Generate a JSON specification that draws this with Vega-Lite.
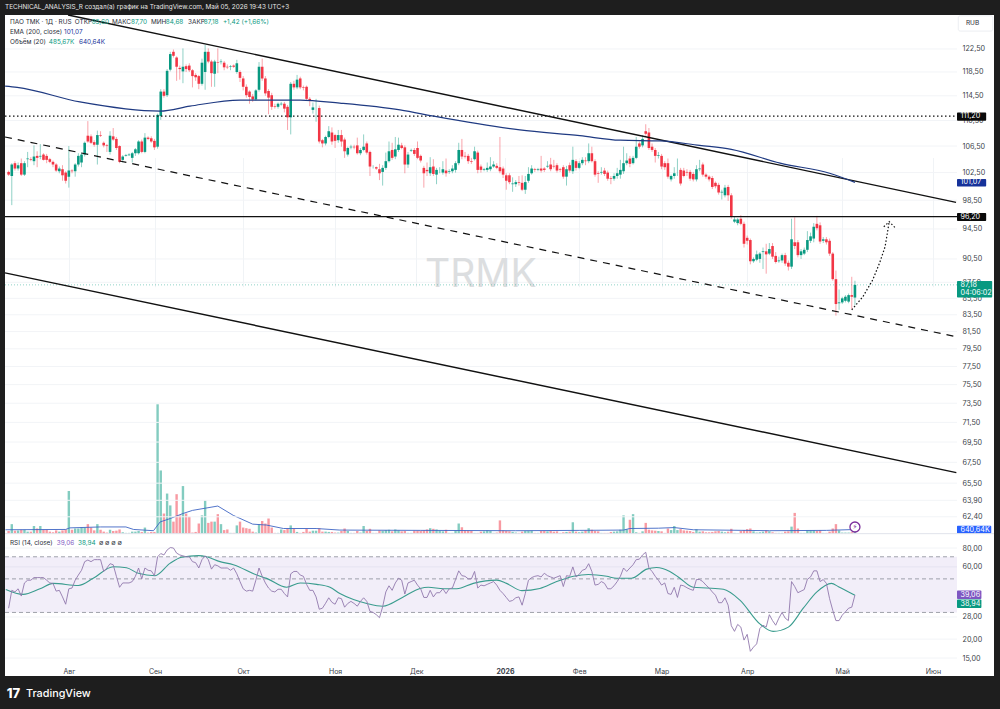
{"$schema":"https://vega.github.io/schema/vega-lite/v6.json","width":989,"height":661,"autosize":{"type":"none"},"padding":{"left":5,"top":15,"right":6,"bottom":33},"background":"#1e1e1e","view":{"fill":"#ffffff","stroke":null},"config":{"text":{"font":"Inter"},"title":{"font":"Inter"},"scale":{"continuousPadding":0}},"title":{"text":"TECHNICAL_ANALYSIS_R создал(а) график на TradingView.com, Май 05, 2026 19:43 UTC+3","anchor":"start","frame":"group","orient":"top","offset":1.5,"fontSize":6.4,"fontWeight":"normal","color":"#e6e6e6"},
"datasets":{
"candles":[
{"i":0,"o":102.6,"h":102.8,"l":102,"c":102.2,"v":0.4,"r":32},
{"i":1,"o":102,"h":103.9,"l":97.8,"c":103.7,"v":1.5,"r":42},
{"i":2,"o":103.9,"h":104.2,"l":102.8,"c":103.1,"v":0.45,"r":41},
{"i":3,"o":103.1,"h":104,"l":102.8,"c":103.6,"v":0.5,"r":43},
{"i":4,"o":103.9,"h":104.6,"l":102,"c":102.2,"v":0.6,"r":38.5},
{"i":5,"o":102.2,"h":104.2,"l":102,"c":103.9,"v":0.6,"r":47},
{"i":6,"o":104.5,"h":105.6,"l":103.3,"c":104.6,"v":0.3,"r":49},
{"i":7,"o":104.5,"h":104.8,"l":104.2,"c":104.4,"v":0.3,"r":49},
{"i":8,"o":104.2,"h":106.6,"l":103.6,"c":104.9,"v":1.2,"r":51},
{"i":9,"o":105,"h":105.7,"l":103.3,"c":104.7,"v":0.8,"r":51},
{"i":10,"o":104.9,"h":106.8,"l":104.5,"c":105,"v":1.2,"r":51},
{"i":11,"o":105.2,"h":105.4,"l":104.3,"c":104.4,"v":0.6,"r":51},
{"i":12,"o":105,"h":105.3,"l":103.9,"c":104.4,"v":0.6,"r":49},
{"i":13,"o":104.5,"h":104.7,"l":103.9,"c":104.1,"v":0.3,"r":47},
{"i":14,"o":104.1,"h":104.3,"l":103.3,"c":103.7,"v":0.2,"r":46.7},
{"i":15,"o":103.7,"h":103.9,"l":102.6,"c":102.8,"v":0.5,"r":41.5},
{"i":16,"o":102.7,"h":103.4,"l":102.4,"c":103.1,"v":0.3,"r":42},
{"i":17,"o":103,"h":103.6,"l":101.3,"c":102.1,"v":0.5,"r":38},
{"i":18,"o":102.5,"h":102.7,"l":100.9,"c":101.3,"v":0.65,"r":34},
{"i":19,"o":101.9,"h":106.5,"l":100.3,"c":102.8,"v":6.8,"r":43},
{"i":20,"o":102.8,"h":103,"l":102.4,"c":102.7,"v":0.6,"r":43.5},
{"i":21,"o":102.7,"h":103.9,"l":101.9,"c":103.7,"v":0.8,"r":49},
{"i":22,"o":103.7,"h":105.4,"l":103.4,"c":105,"v":0.8,"r":53},
{"i":23,"o":104,"h":105.5,"l":103.3,"c":105.2,"v":0.95,"r":57},
{"i":24,"o":105.2,"h":107.2,"l":104.9,"c":107,"v":0.95,"r":65},
{"i":25,"o":108.1,"h":110.4,"l":107,"c":107.2,"v":1.5,"r":66.6},
{"i":26,"o":108,"h":108.3,"l":106.8,"c":107,"v":0.95,"r":65},
{"i":27,"o":107.1,"h":107.4,"l":106.4,"c":106.7,"v":0.5,"r":67},
{"i":28,"o":106.7,"h":108.9,"l":103.7,"c":108.2,"v":1.5,"r":67},
{"i":29,"o":108.2,"h":108.8,"l":107.9,"c":108.1,"v":0.6,"r":67},
{"i":30,"o":107,"h":107.2,"l":106.3,"c":106.6,"v":0.3,"r":56},
{"i":31,"o":106.6,"h":106.8,"l":105.6,"c":106.5,"v":0.15,"r":59},
{"i":32,"o":105.6,"h":108.8,"l":105.2,"c":108.1,"v":0.6,"r":63},
{"i":33,"o":108,"h":109.3,"l":107.3,"c":107.5,"v":0.4,"r":62},
{"i":34,"o":107.6,"h":107.9,"l":105.9,"c":106.2,"v":0.45,"r":52},
{"i":35,"o":106.5,"h":106.6,"l":103.9,"c":104.1,"v":0.65,"r":44},
{"i":36,"o":104.4,"h":105.1,"l":104,"c":104.9,"v":0.2,"r":47},
{"i":37,"o":105,"h":105.3,"l":104.9,"c":105.1,"v":0.1,"r":47},
{"i":38,"o":105.1,"h":105.4,"l":105,"c":105.2,"v":0.1,"r":47},
{"i":39,"o":104.7,"h":105.6,"l":104,"c":105.4,"v":0.3,"r":48},
{"i":40,"o":105.4,"h":106.2,"l":105,"c":106,"v":0.3,"r":52},
{"i":41,"o":105.4,"h":107.4,"l":105.2,"c":107.2,"v":0.4,"r":59},
{"i":42,"o":107.2,"h":107.5,"l":105.4,"c":105.6,"v":0.25,"r":50},
{"i":43,"o":105.6,"h":108.5,"l":105.4,"c":107.8,"v":0.95,"r":59},
{"i":44,"o":107.8,"h":108,"l":107.4,"c":107.6,"v":0.15,"r":57},
{"i":45,"o":107.7,"h":108,"l":107,"c":107.2,"v":0.25,"r":56.5},
{"i":46,"o":107.3,"h":107.6,"l":105.9,"c":106.3,"v":0.25,"r":52.5},
{"i":47,"o":106.4,"h":111.6,"l":106.1,"c":111.4,"v":20.7,"r":70},
{"i":48,"o":111.2,"h":115.6,"l":110.6,"c":115.2,"v":10.1,"r":73.5},
{"i":49,"o":115.2,"h":115.6,"l":114.2,"c":114.5,"v":3.2,"r":72},
{"i":50,"o":114.6,"h":119,"l":114.3,"c":118.7,"v":6.4,"r":77.6},
{"i":51,"o":118.9,"h":122,"l":118.6,"c":121.6,"v":4.5,"r":80.5},
{"i":52,"o":122,"h":122.4,"l":121,"c":121.3,"v":1.9,"r":80},
{"i":53,"o":121,"h":121.2,"l":117,"c":119.4,"v":6.3,"r":74},
{"i":54,"o":119.2,"h":119.6,"l":117.2,"c":119,"v":2.9,"r":72},
{"i":55,"o":118.6,"h":122.6,"l":116.6,"c":119.4,"v":7.6,"r":71},
{"i":56,"o":119.5,"h":119.8,"l":118.5,"c":119,"v":3.2,"r":70},
{"i":57,"o":119.6,"h":120,"l":118.5,"c":118.8,"v":2.7,"r":70},
{"i":58,"o":118.8,"h":119,"l":115.9,"c":117.8,"v":0.15,"r":65},
{"i":59,"o":118,"h":118.3,"l":117,"c":117.6,"v":0.25,"r":64},
{"i":60,"o":117.8,"h":118,"l":115.6,"c":116.5,"v":1.6,"r":59},
{"i":61,"o":116.5,"h":120.8,"l":116.2,"c":120.1,"v":2.9,"r":67},
{"i":62,"o":118.5,"h":123.2,"l":115.5,"c":122,"v":5.3,"r":71},
{"i":63,"o":122,"h":122.6,"l":120,"c":120.3,"v":1.7,"r":67},
{"i":64,"o":120.3,"h":120.6,"l":116,"c":118.3,"v":1.9,"r":58},
{"i":65,"o":118.2,"h":120.6,"l":116,"c":120.3,"v":1.9,"r":62},
{"i":66,"o":120.2,"h":122.6,"l":118.3,"c":120.1,"v":3.1,"r":61},
{"i":67,"o":120.2,"h":120.7,"l":119.8,"c":120.3,"v":1.5,"r":59},
{"i":68,"o":120.1,"h":120.4,"l":118.8,"c":119.3,"v":0.55,"r":59},
{"i":69,"o":119.4,"h":119.8,"l":119,"c":119.3,"v":0.65,"r":59},
{"i":70,"o":119.4,"h":119.7,"l":118.8,"c":119.5,"v":0.1,"r":57},
{"i":71,"o":119.6,"h":119.8,"l":119.2,"c":119.4,"v":0.1,"r":59},
{"i":72,"o":118.5,"h":120.6,"l":118.2,"c":120,"v":1.3,"r":54},
{"i":73,"o":118.5,"h":118.8,"l":116.8,"c":117.5,"v":1.9,"r":48},
{"i":74,"o":117.4,"h":117.8,"l":115.4,"c":116,"v":0.95,"r":43},
{"i":75,"o":116,"h":116.4,"l":114.2,"c":114.6,"v":0.85,"r":41.5},
{"i":76,"o":115.2,"h":115.4,"l":113.2,"c":114.3,"v":0.75,"r":42},
{"i":77,"o":114.4,"h":114.8,"l":113.5,"c":113.9,"v":0.3,"r":41.5},
{"i":78,"o":113.9,"h":115.6,"l":113.7,"c":115.4,"v":0.15,"r":49},
{"i":79,"o":115.5,"h":120.2,"l":115.2,"c":119.4,"v":1.5,"r":59},
{"i":80,"o":119.4,"h":120.8,"l":117,"c":117.4,"v":2,"r":52},
{"i":81,"o":117.4,"h":117.8,"l":114.5,"c":114.9,"v":1.6,"r":47},
{"i":82,"o":115.3,"h":115.6,"l":111.5,"c":114.2,"v":2.4,"r":43.5},
{"i":83,"o":114.6,"h":115,"l":112.2,"c":112.7,"v":0.95,"r":41.5},
{"i":84,"o":112.8,"h":113.2,"l":112.4,"c":112.7,"v":0.1,"r":41},
{"i":85,"o":112.7,"h":113.4,"l":112.4,"c":113.2,"v":0.1,"r":42.7},
{"i":86,"o":113.1,"h":113.5,"l":112.9,"c":113.2,"v":0.65,"r":42.7},
{"i":87,"o":113.2,"h":113.5,"l":111.8,"c":112.4,"v":0.55,"r":40},
{"i":88,"o":112.7,"h":113,"l":109,"c":111,"v":0.75,"r":38},
{"i":89,"o":111,"h":116.8,"l":108.3,"c":116.5,"v":1.3,"r":54},
{"i":90,"o":116.5,"h":117,"l":115.5,"c":115.9,"v":0.75,"r":56},
{"i":91,"o":115.9,"h":118,"l":115.6,"c":117.2,"v":0.25,"r":56},
{"i":92,"o":117.4,"h":117.7,"l":115.6,"c":115.9,"v":0.1,"r":53},
{"i":93,"o":115.9,"h":116.2,"l":115.4,"c":115.8,"v":0.25,"r":52},
{"i":94,"o":116,"h":116.2,"l":113.8,"c":114,"v":0.75,"r":46},
{"i":95,"o":114,"h":114.3,"l":112.8,"c":113.8,"v":0.3,"r":42},
{"i":96,"o":112.2,"h":113.4,"l":111.6,"c":112.6,"v":0.45,"r":42},
{"i":97,"o":112.6,"h":114,"l":110.3,"c":112.6,"v":0.45,"r":38},
{"i":98,"o":112.5,"h":112.9,"l":106.9,"c":107.2,"v":0.85,"r":31.5},
{"i":99,"o":107.4,"h":107.6,"l":106.3,"c":106.9,"v":0.3,"r":32},
{"i":100,"o":106.9,"h":108.1,"l":106.6,"c":107.9,"v":0.3,"r":34.5},
{"i":101,"o":107.9,"h":109.6,"l":107.7,"c":108.8,"v":0.25,"r":37.5},
{"i":102,"o":108.6,"h":109.4,"l":106.7,"c":107.2,"v":0.25,"r":35},
{"i":103,"o":108.2,"h":108.4,"l":106.2,"c":107.3,"v":0.15,"r":34},
{"i":104,"o":107.4,"h":109,"l":107,"c":108.2,"v":0.15,"r":37.5},
{"i":105,"o":108.2,"h":109,"l":106.4,"c":107.2,"v":0.4,"r":37},
{"i":106,"o":107.5,"h":107.8,"l":104.7,"c":105.7,"v":0.8,"r":32.5},
{"i":107,"o":105.2,"h":106.4,"l":104.9,"c":106.2,"v":0.4,"r":34.4},
{"i":108,"o":106.3,"h":106.7,"l":106,"c":106.4,"v":0.1,"r":35.5},
{"i":109,"o":106.4,"h":106.7,"l":106,"c":106.3,"v":0.1,"r":34.4},
{"i":110,"o":106.6,"h":107.8,"l":105.2,"c":105.4,"v":0.4,"r":33},
{"i":111,"o":105.4,"h":106.2,"l":105.1,"c":105.9,"v":0.15,"r":35.5},
{"i":112,"o":105.9,"h":108.3,"l":105.7,"c":106.4,"v":1.2,"r":37.5},
{"i":113,"o":106.9,"h":107.2,"l":105.2,"c":105.5,"v":0.4,"r":35.5},
{"i":114,"o":105.6,"h":105.8,"l":102,"c":103.4,"v":0.75,"r":30.5},
{"i":115,"o":103.4,"h":103.6,"l":103.1,"c":103.4,"v":0.1,"r":30},
{"i":116,"o":103.3,"h":103.4,"l":102.9,"c":103.1,"v":0.1,"r":29},
{"i":117,"o":103,"h":103.8,"l":101.4,"c":102.4,"v":0.5,"r":27.7},
{"i":118,"o":102.6,"h":103.6,"l":100.6,"c":103.2,"v":0.45,"r":32.7},
{"i":119,"o":103.2,"h":105.5,"l":102.9,"c":104.2,"v":0.55,"r":41},
{"i":120,"o":104.2,"h":107.2,"l":104,"c":105.7,"v":0.6,"r":45},
{"i":121,"o":105.9,"h":107,"l":104.4,"c":104.7,"v":0.35,"r":42},
{"i":122,"o":104.9,"h":107.9,"l":104.5,"c":106,"v":0.65,"r":47},
{"i":123,"o":105.9,"h":107.8,"l":105.6,"c":106.7,"v":0.5,"r":50.5},
{"i":124,"o":106.6,"h":107,"l":106,"c":106.2,"v":0.35,"r":49},
{"i":125,"o":106.3,"h":106.6,"l":102.4,"c":103.7,"v":0.4,"r":39.7},
{"i":126,"o":103.7,"h":105.6,"l":103.2,"c":105.2,"v":0.1,"r":47},
{"i":127,"o":105.8,"h":106.1,"l":105.6,"c":105.9,"v":0.1,"r":48},
{"i":128,"o":105.9,"h":106.2,"l":105,"c":105.3,"v":0.45,"r":49},
{"i":129,"o":106.2,"h":107.2,"l":104.5,"c":104.7,"v":0.45,"r":45.5},
{"i":130,"o":105,"h":105.2,"l":104,"c":104.3,"v":0.45,"r":43},
{"i":131,"o":103.2,"h":103.5,"l":100.3,"c":102.4,"v":0.5,"r":37.7},
{"i":132,"o":102.9,"h":104,"l":102,"c":102.7,"v":0.65,"r":37.7},
{"i":133,"o":102.4,"h":104.8,"l":102,"c":103.3,"v":0.85,"r":42},
{"i":134,"o":103.4,"h":104.5,"l":102,"c":102.3,"v":0.75,"r":38},
{"i":135,"o":102.2,"h":103.2,"l":100.8,"c":102.9,"v":0.65,"r":40.5},
{"i":136,"o":102.8,"h":103.3,"l":102.4,"c":102.8,"v":0.45,"r":40.5},
{"i":137,"o":102.5,"h":104.2,"l":102.2,"c":103,"v":0.35,"r":43},
{"i":138,"o":102.8,"h":104.6,"l":101.9,"c":102.4,"v":0.6,"r":40},
{"i":139,"o":102.6,"h":103,"l":102.3,"c":102.7,"v":0.1,"r":43},
{"i":140,"o":102.7,"h":103.6,"l":102.4,"c":103.1,"v":0.1,"r":43.5},
{"i":141,"o":102.9,"h":104.2,"l":102.5,"c":103.9,"v":0.45,"r":49.5},
{"i":142,"o":103.9,"h":107,"l":103.6,"c":105.9,"v":1.6,"r":56.5},
{"i":143,"o":105.9,"h":107.6,"l":104.5,"c":104.9,"v":1,"r":52.5},
{"i":144,"o":105,"h":105.6,"l":104.6,"c":104.9,"v":0.5,"r":52},
{"i":145,"o":105,"h":105.3,"l":103.8,"c":104.2,"v":0.45,"r":50},
{"i":146,"o":104.2,"h":104.7,"l":103.8,"c":104.1,"v":0.4,"r":50},
{"i":147,"o":104.5,"h":106.4,"l":104.3,"c":105.7,"v":0.1,"r":56},
{"i":148,"o":105.5,"h":105.8,"l":102.4,"c":102.9,"v":0.1,"r":43.5},
{"i":149,"o":103.4,"h":103.7,"l":102.5,"c":102.9,"v":0.3,"r":45.5},
{"i":150,"o":102.9,"h":103.2,"l":102.7,"c":103,"v":0.35,"r":45},
{"i":151,"o":102.9,"h":104,"l":102.6,"c":103.2,"v":0.5,"r":46},
{"i":152,"o":103,"h":104.8,"l":102.7,"c":103.4,"v":0.4,"r":47},
{"i":153,"o":103.4,"h":104.2,"l":103.2,"c":103.7,"v":0.1,"r":48},
{"i":154,"o":103.5,"h":103.9,"l":103,"c":103.2,"v":0.15,"r":45.5},
{"i":155,"o":103.3,"h":107.9,"l":102.4,"c":102.7,"v":2.1,"r":42},
{"i":156,"o":103.1,"h":103.4,"l":101.7,"c":102.2,"v":0.5,"r":40},
{"i":157,"o":102.1,"h":102.4,"l":100,"c":101.3,"v":0.4,"r":37.7},
{"i":158,"o":102.1,"h":102.4,"l":100.8,"c":101.1,"v":0.35,"r":35.5},
{"i":159,"o":100.8,"h":101.8,"l":99.7,"c":100.9,"v":0.25,"r":36},
{"i":160,"o":100.8,"h":101.4,"l":100.4,"c":101.1,"v":0.15,"r":37.5},
{"i":161,"o":101.1,"h":102,"l":100.6,"c":101,"v":0.1,"r":38},
{"i":162,"o":101,"h":102.1,"l":99.8,"c":100,"v":0.3,"r":33.5},
{"i":163,"o":100,"h":102,"l":99.4,"c":101.1,"v":0.4,"r":40},
{"i":164,"o":101.3,"h":103.3,"l":101,"c":102.3,"v":0.4,"r":49},
{"i":165,"o":102.4,"h":103.6,"l":102.2,"c":103.1,"v":0.45,"r":51},
{"i":166,"o":103,"h":103.2,"l":102.6,"c":102.9,"v":0.1,"r":52},
{"i":167,"o":102.9,"h":103.2,"l":102.7,"c":103,"v":0.1,"r":52.5},
{"i":168,"o":103.1,"h":105,"l":102.5,"c":102.8,"v":0.4,"r":51.5},
{"i":169,"o":103.1,"h":103.3,"l":102.6,"c":102.9,"v":0.4,"r":54.5},
{"i":170,"o":103.4,"h":104.2,"l":103.2,"c":103.5,"v":0.35,"r":52.5},
{"i":171,"o":103.7,"h":104.7,"l":102.7,"c":103,"v":0.4,"r":51.5},
{"i":172,"o":103.5,"h":104.4,"l":103.1,"c":103.4,"v":0.3,"r":50.5},
{"i":173,"o":103.6,"h":103.9,"l":102.5,"c":102.8,"v":0.35,"r":51.5},
{"i":174,"o":103,"h":103.2,"l":102.6,"c":102.9,"v":0.1,"r":52.5},
{"i":175,"o":103.3,"h":103.6,"l":101.6,"c":101.9,"v":0.2,"r":44.5},
{"i":176,"o":101.9,"h":103.5,"l":100.6,"c":103,"v":0.25,"r":52.5},
{"i":177,"o":103.6,"h":104,"l":102.5,"c":102.8,"v":0.3,"r":52},
{"i":178,"o":102.7,"h":106.4,"l":102.3,"c":104.4,"v":1.8,"r":60},
{"i":179,"o":104.2,"h":104.5,"l":102.8,"c":103.2,"v":0.3,"r":51.5},
{"i":180,"o":103.2,"h":104.2,"l":103,"c":103.9,"v":0.2,"r":53.5},
{"i":181,"o":103.9,"h":104.8,"l":103.6,"c":104.4,"v":0.3,"r":57},
{"i":182,"o":104.3,"h":104.8,"l":103.6,"c":104.2,"v":0.5,"r":58},
{"i":183,"o":104.2,"h":106.9,"l":103.9,"c":105.4,"v":0.85,"r":63},
{"i":184,"o":105.4,"h":106.4,"l":104,"c":104.2,"v":0.6,"r":56},
{"i":185,"o":104.2,"h":104.5,"l":101.9,"c":102.2,"v":0.4,"r":45.5},
{"i":186,"o":102.4,"h":102.7,"l":101,"c":102.3,"v":0.35,"r":46},
{"i":187,"o":102.5,"h":103.3,"l":102.2,"c":102.6,"v":0.1,"r":48},
{"i":188,"o":102.8,"h":103.2,"l":102,"c":102.3,"v":0.1,"r":46.7},
{"i":189,"o":102.5,"h":102.8,"l":101.3,"c":101.6,"v":0.1,"r":43},
{"i":190,"o":101.7,"h":102,"l":100.8,"c":101.6,"v":0.25,"r":43},
{"i":191,"o":101.6,"h":102.4,"l":101.3,"c":102,"v":0.3,"r":45},
{"i":192,"o":102,"h":103.2,"l":101.6,"c":102.4,"v":0.35,"r":48},
{"i":193,"o":102.2,"h":104.4,"l":101.6,"c":102.9,"v":0.6,"r":52},
{"i":194,"o":102.7,"h":106.4,"l":102.3,"c":103.9,"v":2.9,"r":59},
{"i":195,"o":103.9,"h":105.4,"l":103.6,"c":104.3,"v":0.65,"r":56},
{"i":196,"o":104.6,"h":105,"l":103.3,"c":103.8,"v":2.2,"r":59},
{"i":197,"o":103.9,"h":105,"l":103.7,"c":104.7,"v":3.1,"r":62},
{"i":198,"o":104.7,"h":107.9,"l":104.5,"c":106.4,"v":0.2,"r":67},
{"i":199,"o":106.9,"h":107.2,"l":106.1,"c":106.4,"v":0.1,"r":67.5},
{"i":200,"o":106.6,"h":108.2,"l":106.3,"c":107.6,"v":0.35,"r":72},
{"i":201,"o":108.8,"h":109.9,"l":108.1,"c":108.4,"v":1.7,"r":75},
{"i":202,"o":108.6,"h":109.3,"l":105.9,"c":106.2,"v":0.6,"r":59},
{"i":203,"o":106.4,"h":106.9,"l":105.6,"c":105.9,"v":0.5,"r":56},
{"i":204,"o":105.9,"h":106.2,"l":104,"c":105,"v":0.45,"r":52},
{"i":205,"o":105,"h":105.6,"l":104.6,"c":105.1,"v":0.4,"r":49},
{"i":206,"o":105,"h":105.3,"l":103,"c":103.4,"v":0.35,"r":45.5},
{"i":207,"o":103.9,"h":104.2,"l":102.9,"c":103.3,"v":0.1,"r":47},
{"i":208,"o":103.9,"h":104.6,"l":101.6,"c":101.9,"v":0.8,"r":40},
{"i":209,"o":101.5,"h":102.2,"l":101.2,"c":102,"v":0.55,"r":39.5},
{"i":210,"o":102,"h":103.3,"l":101.6,"c":102.4,"v":1.2,"r":44},
{"i":211,"o":102.6,"h":104.6,"l":102,"c":102.6,"v":0.55,"r":37.7},
{"i":212,"o":102.9,"h":103.2,"l":100.6,"c":100.9,"v":0.7,"r":45.5},
{"i":213,"o":102.8,"h":103.2,"l":101.8,"c":102,"v":0.5,"r":45},
{"i":214,"o":102.6,"h":103,"l":102,"c":102.5,"v":0.45,"r":43.7},
{"i":215,"o":102.6,"h":102.9,"l":101.3,"c":101.6,"v":0.4,"r":42.7},
{"i":216,"o":102.3,"h":102.6,"l":101.2,"c":101.5,"v":0.25,"r":42},
{"i":217,"o":101.5,"h":103.6,"l":101.2,"c":103,"v":0.7,"r":49.5},
{"i":218,"o":103,"h":104.4,"l":102.7,"c":103.1,"v":0.3,"r":49.5},
{"i":219,"o":103.7,"h":104,"l":101.9,"c":102.2,"v":0.35,"r":48},
{"i":220,"o":102.2,"h":102.4,"l":101.6,"c":101.9,"v":0.2,"r":45.5},
{"i":221,"o":101.9,"h":102.1,"l":101.2,"c":101.5,"v":0.2,"r":43.5},
{"i":222,"o":101.7,"h":102,"l":100.1,"c":100.4,"v":0.25,"r":41},
{"i":223,"o":101,"h":101.2,"l":100.2,"c":100.5,"v":0.35,"r":39},
{"i":224,"o":100.7,"h":101,"l":99.3,"c":99.6,"v":0.4,"r":34.8},
{"i":225,"o":99.6,"h":100,"l":98.6,"c":99.7,"v":0.3,"r":34.8},
{"i":226,"o":99.2,"h":100.7,"l":98.9,"c":100.3,"v":0.2,"r":37.5},
{"i":227,"o":100.4,"h":100.7,"l":98.4,"c":99.2,"v":0.3,"r":33.5},
{"i":228,"o":99.2,"h":99.5,"l":95.9,"c":96.2,"v":0.75,"r":24.5},
{"i":229,"o":95.5,"h":96.2,"l":95.3,"c":95.8,"v":0.1,"r":22.5},
{"i":230,"o":95.3,"h":96,"l":95,"c":95.8,"v":0.05,"r":25},
{"i":231,"o":95.9,"h":96.4,"l":95,"c":95.2,"v":0.4,"r":24},
{"i":232,"o":95.2,"h":95.5,"l":92,"c":92.5,"v":0.55,"r":19.7},
{"i":233,"o":93.3,"h":93.6,"l":92.4,"c":92.9,"v":0.7,"r":21.5},
{"i":234,"o":93,"h":93.2,"l":89.8,"c":90.2,"v":0.8,"r":16.6},
{"i":235,"o":90.2,"h":90.7,"l":90,"c":90.5,"v":0.35,"r":17.7},
{"i":236,"o":90.4,"h":91.6,"l":90.2,"c":91.1,"v":0.15,"r":18.6},
{"i":237,"o":90.5,"h":91.4,"l":90,"c":91.2,"v":0.2,"r":23.5},
{"i":238,"o":91.4,"h":92,"l":89.2,"c":91.5,"v":0.3,"r":24.7},
{"i":239,"o":91.5,"h":92.5,"l":88.6,"c":91.1,"v":0.5,"r":24},
{"i":240,"o":91.2,"h":92.6,"l":91,"c":91.8,"v":0.35,"r":29},
{"i":241,"o":92.2,"h":92.6,"l":90.5,"c":90.8,"v":0.2,"r":26.5},
{"i":242,"o":90.9,"h":91.4,"l":89.9,"c":90.1,"v":0.1,"r":24.7},
{"i":243,"o":90.2,"h":90.8,"l":90,"c":90.3,"v":0.1,"r":27.5},
{"i":244,"o":90.3,"h":91.2,"l":90,"c":91,"v":0.1,"r":30},
{"i":245,"o":91,"h":91.3,"l":89.6,"c":89.9,"v":0.3,"r":27.5},
{"i":246,"o":90,"h":90.3,"l":89,"c":89.5,"v":0.35,"r":26.5},
{"i":247,"o":89.5,"h":95.9,"l":89.2,"c":93.1,"v":1.1,"r":48},
{"i":248,"o":92.7,"h":96.1,"l":91.8,"c":92.2,"v":3.3,"r":44.5},
{"i":249,"o":92.7,"h":93,"l":90.7,"c":91,"v":0.8,"r":40.5},
{"i":250,"o":91,"h":91.8,"l":90.5,"c":91.5,"v":0.1,"r":41.5},
{"i":251,"o":91.2,"h":92,"l":91,"c":91.7,"v":0.1,"r":42.5},
{"i":252,"o":91.7,"h":94.2,"l":91.4,"c":93,"v":0.5,"r":49.7},
{"i":253,"o":92.9,"h":94,"l":92.6,"c":93.5,"v":0.5,"r":51.5},
{"i":254,"o":93.2,"h":95.3,"l":92.7,"c":94.8,"v":0.5,"r":56.5},
{"i":255,"o":95.2,"h":96.3,"l":94.3,"c":94.6,"v":0.4,"r":56.5},
{"i":256,"o":95,"h":95.4,"l":92.5,"c":92.8,"v":0.5,"r":48},
{"i":257,"o":92.9,"h":93.4,"l":92.6,"c":93.1,"v":0.1,"r":49.5},
{"i":258,"o":93.1,"h":93.4,"l":92.4,"c":92.7,"v":0.1,"r":46.7},
{"i":259,"o":92.9,"h":93.2,"l":90.9,"c":91.2,"v":0.3,"r":37},
{"i":260,"o":91.2,"h":91.4,"l":87.7,"c":87.9,"v":0.8,"r":31},
{"i":261,"o":87.9,"h":89,"l":83.4,"c":84.8,"v":1.5,"r":26.5},
{"i":262,"o":84.9,"h":86.6,"l":84.1,"c":85,"v":0.5,"r":26.5},
{"i":263,"o":85,"h":85.7,"l":84.8,"c":85.5,"v":0.15,"r":28.8},
{"i":264,"o":85.2,"h":85.9,"l":85,"c":85.7,"v":0.15,"r":30.3},
{"i":265,"o":85.1,"h":86.1,"l":84.9,"c":85.9,"v":0.15,"r":32},
{"i":266,"o":85.9,"h":88.2,"l":84.2,"c":85.7,"v":0.2,"r":32.5},
{"i":267,"o":85.6,"h":87.7,"l":84.68,"c":87.18,"v":0.49,"r":39.06}
],
"ema":[{"i":-1.1,"p":116.1},{"i":2.7,"p":115.9},{"i":22.5,"p":113.5},{"i":47.8,"p":112},{"i":57.2,"p":112.8},{"i":73,"p":113.8},{"i":92,"p":113.8},{"i":104.5,"p":113.3},{"i":123.5,"p":112.2},{"i":135,"p":111.1},{"i":161.3,"p":109},{"i":180.2,"p":108.1},{"i":192.9,"p":107.4},{"i":205.5,"p":107.3},{"i":218,"p":106.6},{"i":228,"p":106},{"i":243.4,"p":103.9},{"i":259,"p":102.4},{"i":267,"p":101.07}],
"solid":[{"n":"a","i":18.75,"p":128.65},{"n":"a","i":298.9,"p":98.2},{"n":"b","i":-1.14,"p":88.7},{"n":"b","i":299,"p":66.5}],
"dashed":[{"i":-1.14,"p":107.9},{"i":299,"p":80.9}],
"arrow":[{"n":"a","i":266,"p":84.1},{"n":"a","i":269.5,"p":85.7},{"n":"a","i":272.6,"p":87.8},{"n":"a","i":274.8,"p":90},{"n":"a","i":276.5,"p":92.1},{"n":"a","i":277.4,"p":94.4},{"n":"a","i":277.8,"p":95.5},{"n":"b","i":276.1,"p":94.8},{"n":"b","i":277.8,"p":95.5},{"n":"b","i":279.6,"p":94.7}],
"grid":[{"i":-1.14,"j":299.2,"p":122.5},{"i":-1.14,"j":299.2,"p":118.5},{"i":-1.14,"j":299.2,"p":114.5},{"i":-1.14,"j":299.2,"p":110.5},{"i":-1.14,"j":299.2,"p":106.5},{"i":-1.14,"j":299.2,"p":102.5},{"i":-1.14,"j":299.2,"p":98.5},{"i":-1.14,"j":299.2,"p":94.5},{"i":-1.14,"j":299.2,"p":90.5},{"i":-1.14,"j":299.2,"p":87.5},{"i":-1.14,"j":299.2,"p":85.5},{"i":-1.14,"j":299.2,"p":83.5},{"i":-1.14,"j":299.2,"p":81.5},{"i":-1.14,"j":299.2,"p":79.5},{"i":-1.14,"j":299.2,"p":77.5},{"i":-1.14,"j":299.2,"p":75.5},{"i":-1.14,"j":299.2,"p":73.5},{"i":-1.14,"j":299.2,"p":71.5},{"i":-1.14,"j":299.2,"p":69.5},{"i":-1.14,"j":299.2,"p":67.5},{"i":-1.14,"j":299.2,"p":65.5},{"i":-1.14,"j":299.2,"p":63.9},{"i":-1.14,"j":299.2,"p":62.4}],
"volma":[{"i":-1,"v":0.6},{"i":18,"v":0.65},{"i":19.3,"v":0.9},{"i":29,"v":1.05},{"i":37,"v":1.05},{"i":39.4,"v":0.65},{"i":45.7,"v":0.45},{"i":47.8,"v":1.85},{"i":51,"v":2.4},{"i":55,"v":3.2},{"i":58,"v":3.7},{"i":66,"v":4.4},{"i":70.9,"v":2.9},{"i":77,"v":1.5},{"i":81.4,"v":1.35},{"i":86.7,"v":0.8},{"i":97,"v":0.8},{"i":104.5,"v":0.55},{"i":130,"v":0.5},{"i":160,"v":0.45},{"i":180,"v":0.5},{"i":194,"v":0.55},{"i":196,"v":0.8},{"i":205,"v":0.85},{"i":210,"v":0.95},{"i":216,"v":0.6},{"i":240,"v":0.45},{"i":258,"v":0.5},{"i":267,"v":0.64}],
"rsima":[{"i":-0.9,"r":42.6},{"i":4.6,"r":39.5},{"i":9.9,"r":43},{"i":14.1,"r":46.7},{"i":22,"r":45.2},{"i":26.7,"r":50.4},{"i":33,"r":60.2},{"i":37.2,"r":59.3},{"i":40.9,"r":54.4},{"i":46.2,"r":52.5},{"i":50.9,"r":63.3},{"i":54.6,"r":69.5},{"i":59.9,"r":71.2},{"i":62.5,"r":70},{"i":66.7,"r":65},{"i":70.9,"r":62},{"i":78.3,"r":53},{"i":81.4,"r":50.4},{"i":87.7,"r":44},{"i":92,"r":47},{"i":97.2,"r":46},{"i":101.4,"r":44},{"i":104.5,"r":40},{"i":108.8,"r":36.5},{"i":113,"r":34.4},{"i":118,"r":33},{"i":124.5,"r":38},{"i":129.8,"r":43.2},{"i":132.4,"r":44},{"i":137.2,"r":43},{"i":141.4,"r":43},{"i":146.6,"r":46.7},{"i":154,"r":49.1},{"i":157.1,"r":46.7},{"i":161.9,"r":41.8},{"i":167.6,"r":43.2},{"i":172.9,"r":48},{"i":178.2,"r":52},{"i":182.9,"r":53.5},{"i":188.7,"r":52},{"i":191.8,"r":50.5},{"i":196.5,"r":50.5},{"i":201.3,"r":58},{"i":204.4,"r":59.5},{"i":208.6,"r":56},{"i":211.8,"r":50.5},{"i":216,"r":44},{"i":220.2,"r":43.5},{"i":225.5,"r":42.7},{"i":230.7,"r":36.2},{"i":237,"r":25.2},{"i":241.2,"r":22.5},{"i":246,"r":24},{"i":250.7,"r":32},{"i":255,"r":41},{"i":259.6,"r":46.7},{"i":261.8,"r":44.4},{"i":267,"r":38.94}],
"rsigrid":[{"i":-1.14,"j":299.2,"r":80},{"i":-1.14,"j":299.2,"r":60},{"i":-1.14,"j":299.2,"r":28},{"i":-1.14,"j":299.2,"r":20},{"i":-1.14,"j":299.2,"r":15}]
},
"encoding":{"x":{"field":"i","type":"quantitative","scale":{"domain":[-1.14,310.87],"nice":false,"zero":false,"padding":0},"axis":{"orient":"bottom","offset":-12,"title":null,"domain":false,"ticks":false,"grid":true,"gridColor":"#f0f3f6","values":[19,46.2,74,103,128.6,156.6,180,206,233,263,291.6],"labelExpr":"datum.value==19?'Авг':datum.value==46.2?'Сен':datum.value==74?'Окт':datum.value==103?'Ноя':datum.value==128.6?'Дек':datum.value==156.6?'2026':datum.value==180?'Фев':datum.value==206?'Мар':datum.value==233?'Апр':datum.value==263?'Май':'Июн'","labelFont":"Inter","labelFontSize":7,"labelColor":"#3b3f4a","labelPadding":3,"labelFontWeight":{"condition":{"test":"datum.value==156.6","value":"bold"},"value":"normal"}}}},
"layer":[
{"layer":[
{"data":{"name":"candles"},"mark":{"type":"bar","orient":"vertical","size":2.4,"opacity":0.5},"encoding":{"y":{"field":"v","type":"quantitative","stack":null,"scale":{"domain":[0,20.7],"range":[518.5,389.3],"padding":0,"nice":false},"axis":null},"color":{"condition":{"test":"datum.c>=datum.o","value":"#089981"},"value":"#f23645"}}},
{"data":{"name":"volma"},"mark":{"type":"line","color":"#3f66c4","strokeWidth":1,"opacity":0.9},"encoding":{"y":{"field":"v","type":"quantitative","axis":null}}},
{"data":{"values":[{"i":299.2,"j":310,"a":1.25,"b":0,"k":"blue"}]},"mark":{"type":"rect","cornerRadius":1},"encoding":{"x2":{"field":"j"},"y":{"field":"a","type":"quantitative","axis":null},"y2":{"field":"b"},"color":{"field":"k","type":"nominal","legend":null,"scale":{"domain":["dark","green","navy","blue","purple","black"],"range":["#2a2e39","#089981","#16329a","#2962ff","#7e57c2","#0a0a0a"]}}}},
{"data":{"values":[{"i":300.3,"v":0.64,"t":"640,64K"}]},"mark":{"type":"text","align":"left","baseline":"middle","fontSize":7.2,"color":"#ffffff"},"encoding":{"y":{"field":"v","type":"quantitative","axis":null},"text":{"field":"t"}}},
{"data":{"values":[{"i":267,"v":1.04}]},"mark":{"type":"point","shape":"circle","filled":false,"size":100,"stroke":"#7b2d9b","strokeWidth":1.3,"fill":"#ffffff","fillOpacity":1},"encoding":{"y":{"field":"v","type":"quantitative","axis":null}}},
{"data":{"values":[{"i":267,"v":1.04,"t":"⚡"}]},"mark":{"type":"text","font":"DejaVu Sans","fontSize":7,"align":"center","baseline":"middle","color":"#7b2d9b"},"encoding":{"y":{"field":"v","type":"quantitative","axis":null},"text":{"field":"t"}}}
]},
{"layer":[
{"data":{"name":"grid"},"mark":{"type":"rule","color":"#f2f4f7","strokeWidth":1},"encoding":{"x2":{"field":"j"},"y":{"field":"p","type":"quantitative","scale":{"type":"log","domain":[49.6,128.65],"nice":false,"padding":0},"axis":{"orient":"right","offset":-37,"title":null,"domain":false,"ticks":false,"grid":false,"values":[122.5,118.5,114.5,110.5,106.5,102.5,98.5,94.5,90.5,87.5,85.5,83.5,81.5,79.5,77.5,75.5,73.5,71.5,69.5,67.5,65.5,63.9,62.4],"labelExpr":"replace(format(datum.value,'.2f'),'.',',')","labelFont":"Inter","labelFontSize":7.2,"labelColor":"#3b3f4a","labelPadding":5,"labelOverlap":false}}}},
{"data":{"values":[{"i":-1.14,"j":310.87,"p":60.9}]},"mark":{"type":"rule","color":"#e0e3eb","strokeWidth":1},"encoding":{"x2":{"field":"j"},"y":{"field":"p","type":"quantitative"}}},
{"data":{"values":[{"i":149,"p":88.4,"t":"TRMK"}]},"mark":{"type":"text","font":"Inter","fontSize":39,"align":"center","baseline":"middle","color":"#dcdee0"},"encoding":{"y":{"field":"p","type":"quantitative"},"text":{"field":"t"}}},
{"data":{"name":"candles"},"mark":{"type":"rule","strokeWidth":1,"opacity":0.45},"encoding":{"y":{"field":"l","type":"quantitative"},"y2":{"field":"h"},"color":{"condition":{"test":"datum.c>=datum.o","value":"#089981"},"value":"#f23645"}}},
{"data":{"name":"candles"},"mark":{"type":"bar","orient":"vertical","size":2.6},"encoding":{"y":{"field":"o","type":"quantitative"},"y2":{"field":"c"},"color":{"condition":{"test":"datum.c>=datum.o","value":"#089981"},"value":"#f23645"}}},
{"data":{"values":[{"i":-1.14,"j":299.2,"p":87.18}]},"mark":{"type":"rule","color":"#089981","strokeWidth":1,"opacity":0.45,"strokeDash":[1,2]},"encoding":{"x2":{"field":"j"},"y":{"field":"p","type":"quantitative"}}},
{"data":{"values":[{"i":-1.14,"j":299.2,"p":96.2}]},"mark":{"type":"rule","color":"#111111","strokeWidth":1.4},"encoding":{"x2":{"field":"j"},"y":{"field":"p","type":"quantitative"}}},
{"data":{"values":[{"i":-1.14,"j":299.2,"p":111.2}]},"mark":{"type":"rule","color":"#111111","strokeWidth":1.2,"strokeDash":[1.5,2.5]},"encoding":{"x2":{"field":"j"},"y":{"field":"p","type":"quantitative"}}},
{"data":{"name":"solid"},"mark":{"type":"line","color":"#111111","strokeWidth":1.4},"encoding":{"detail":{"field":"n"},"y":{"field":"p","type":"quantitative"}}},
{"data":{"name":"dashed"},"mark":{"type":"line","color":"#111111","strokeWidth":1.2,"strokeDash":[7,6]},"encoding":{"y":{"field":"p","type":"quantitative"}}},
{"data":{"name":"ema"},"mark":{"type":"line","color":"#1f3a82","strokeWidth":1.2,"interpolate":"monotone"},"encoding":{"y":{"field":"p","type":"quantitative"}}},
{"data":{"name":"arrow"},"mark":{"type":"line","color":"#111111","strokeWidth":1.2,"strokeDash":[1.5,2]},"encoding":{"detail":{"field":"n"},"y":{"field":"p","type":"quantitative"}}},
{"data":{"values":[{"i":299.2,"j":308.4,"a":111.76,"b":110.47,"k":"black"},{"i":299.2,"j":308.4,"a":101.57,"b":100.45,"k":"navy"},{"i":299.2,"j":308.4,"a":96.7,"b":95.6,"k":"black"},{"i":299.2,"j":310.3,"a":87.67,"b":85.6,"k":"green"}]},"mark":{"type":"rect","cornerRadius":1},"encoding":{"x2":{"field":"j"},"y":{"field":"a","type":"quantitative"},"y2":{"field":"b"},"color":{"field":"k","type":"nominal","legend":null,"scale":{"domain":["dark","green","navy","blue","purple","black"],"range":["#2a2e39","#089981","#16329a","#2962ff","#7e57c2","#0a0a0a"]}}}},
{"data":{"values":[{"i":299.6,"j":310.5,"a":128.5,"b":125.7}]},"mark":{"type":"rect","cornerRadius":2,"fill":"#ffffff","stroke":"#eceef2","strokeWidth":1},"encoding":{"x2":{"field":"j"},"y":{"field":"a","type":"quantitative"},"y2":{"field":"b"}}},
{"data":{"values":[{"i":300.3,"p":111.2,"t":"111,20"},{"i":300.3,"p":101.07,"t":"101,07"},{"i":300.3,"p":96.2,"t":"96,20"},{"i":300.3,"p":87.18,"t":"87,18"},{"i":300.3,"p":86.2,"t":"04:06:02"}]},"mark":{"type":"text","align":"left","baseline":"middle","fontSize":7.2,"color":"#ffffff"},"encoding":{"y":{"field":"p","type":"quantitative"},"text":{"field":"t"}}},
{"data":{"values":[{"i":302,"p":127.2,"t":"RUB"}]},"mark":{"type":"text","align":"left","baseline":"middle","fontSize":6.5,"color":"#2a2e39"},"encoding":{"y":{"field":"p","type":"quantitative"},"text":{"field":"t"}}},
{"data":{"values":[{"i":0.44,"p":127.3,"t":"ПАО ТМК · 1Д · RUS","k":"dark"},{"i":20.9,"p":127.3,"t":"ОТКР","k":"dark"},{"i":26.2,"p":127.3,"t":"85,60","k":"green"},{"i":32.6,"p":127.3,"t":"МАКС","k":"dark"},{"i":38.6,"p":127.3,"t":"87,70","k":"green"},{"i":44.9,"p":127.3,"t":"МИН","k":"dark"},{"i":49.6,"p":127.3,"t":"84,68","k":"green"},{"i":56.6,"p":127.3,"t":"ЗАКР","k":"dark"},{"i":61.6,"p":127.3,"t":"87,18","k":"green"},{"i":67.6,"p":127.3,"t":"+1,42 (+1,66%)","k":"green"},{"i":0.44,"p":125.5,"t":"EMA (200, close)","k":"dark"},{"i":17.5,"p":125.5,"t":"101,07","k":"navy"},{"i":0.44,"p":123.8,"t":"Объём (20)","k":"dark"},{"i":12.7,"p":123.8,"t":"485,67K","k":"green"},{"i":22.2,"p":123.8,"t":"640,64K","k":"navy"}]},"mark":{"type":"text","align":"left","baseline":"middle","fontSize":6.4},"encoding":{"y":{"field":"p","type":"quantitative"},"text":{"field":"t"},"color":{"field":"k","type":"nominal","legend":null,"scale":{"domain":["dark","green","navy","blue","purple","black"],"range":["#2a2e39","#089981","#16329a","#2962ff","#7e57c2","#0a0a0a"]}}}},
{"data":{"values":[{"i":-0.6,"p":48.3,"t":"17"}]},"mark":{"type":"text","align":"left","baseline":"middle","fontSize":13,"fontWeight":800,"color":"#ffffff"},"encoding":{"y":{"field":"p","type":"quantitative"},"text":{"field":"t"}}},
{"data":{"values":[{"i":5.5,"p":48.3,"t":"TradingView"}]},"mark":{"type":"text","align":"left","baseline":"middle","fontSize":10.8,"fontWeight":500,"color":"#ffffff"},"encoding":{"y":{"field":"p","type":"quantitative"},"text":{"field":"t"}}}
]},
{"layer":[
{"data":{"name":"rsigrid"},"mark":{"type":"rule","color":"#f2f4f7","strokeWidth":1},"encoding":{"x2":{"field":"j"},"y":{"field":"r","type":"quantitative","scale":{"type":"log","domain":[15,80],"range":[643,533],"nice":false,"padding":0},"axis":{"orient":"right","offset":-37,"title":null,"domain":false,"ticks":false,"grid":false,"values":[80,60,28,20,15],"labelExpr":"replace(format(datum.value,'.2f'),'.',',')","labelFont":"Inter","labelFontSize":7.2,"labelColor":"#3b3f4a","labelPadding":5}}}},
{"data":{"values":[{"i":-1.14,"j":299.2,"a":30,"b":70}]},"mark":{"type":"rect","color":"#7e57c2","opacity":0.1},"encoding":{"x2":{"field":"j"},"y":{"field":"a","type":"quantitative"},"y2":{"field":"b"}}},
{"data":{"values":[{"i":-1.14,"j":299.2,"r":70},{"i":-1.14,"j":299.2,"r":50},{"i":-1.14,"j":299.2,"r":30}]},"mark":{"type":"rule","color":"#8a8d96","strokeWidth":1,"strokeDash":[4,3],"opacity":0.8},"encoding":{"x2":{"field":"j"},"y":{"field":"r","type":"quantitative"}}},
{"data":{"name":"rsima"},"mark":{"type":"line","color":"#3a9c8e","strokeWidth":1.1,"interpolate":"monotone"},"encoding":{"y":{"field":"r","type":"quantitative"}}},
{"data":{"name":"candles"},"mark":{"type":"line","color":"#9178ad","strokeWidth":0.9},"encoding":{"y":{"field":"r","type":"quantitative"}}},
{"data":{"values":[{"i":299.2,"j":306.9,"a":41.9,"b":36.8,"k":"purple"},{"i":299.2,"j":306.9,"a":36.6,"b":32.1,"k":"green"}]},"mark":{"type":"rect","cornerRadius":1},"encoding":{"x2":{"field":"j"},"y":{"field":"a","type":"quantitative"},"y2":{"field":"b"},"color":{"field":"k","type":"nominal","legend":null,"scale":{"domain":["dark","green","navy","blue","purple","black"],"range":["#2a2e39","#089981","#16329a","#2962ff","#7e57c2","#0a0a0a"]}}}},
{"data":{"values":[{"i":300.3,"r":39.1,"t":"39,06"},{"i":300.3,"r":34.3,"t":"38,94"}]},"mark":{"type":"text","align":"left","baseline":"middle","fontSize":7.2,"color":"#ffffff"},"encoding":{"y":{"field":"r","type":"quantitative"},"text":{"field":"t"}}},
{"data":{"values":[{"i":0.44,"r":86.3,"t":"RSI (14, close)","k":"dark"},{"i":15.2,"r":86.3,"t":"39,06","k":"purple"},{"i":21.9,"r":86.3,"t":"38,94","k":"green"},{"i":28.5,"r":86.3,"t":"∅  ∅  ∅  ∅","k":"dark"}]},"mark":{"type":"text","align":"left","baseline":"middle","fontSize":6.4},"encoding":{"y":{"field":"r","type":"quantitative"},"text":{"field":"t"},"color":{"field":"k","type":"nominal","legend":null,"scale":{"domain":["dark","green","navy","blue","purple","black"],"range":["#2a2e39","#089981","#16329a","#2962ff","#7e57c2","#0a0a0a"]}}}}
]}
],
"resolve":{"scale":{"y":"independent"},"axis":{"y":"independent"}}}
